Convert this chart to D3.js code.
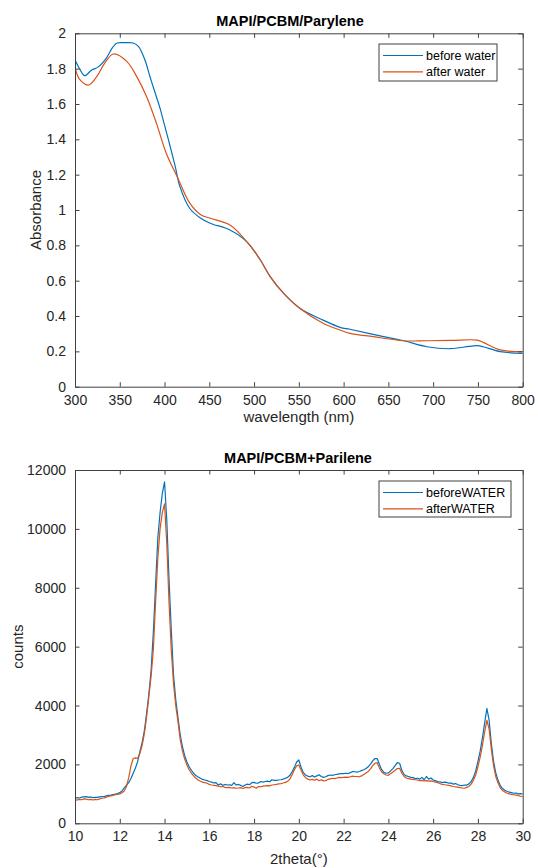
<!DOCTYPE html>
<html>
<head>
<meta charset="utf-8">
<script src="https://cdn.jsdelivr.net/npm/d3@7/dist/d3.min.js"></script>
<style>
  html, body { margin: 0; padding: 0; background: #fff; }
  svg { display: block; font-family: "Liberation Sans", Arial, Helvetica, sans-serif; }
</style>
</head>
<body>
<svg id="chart" width="538" height="868"></svg>
<script>
// ---- UV-vis absorbance (top panel) ----
const wlBefore = [300, 305, 311, 318, 326, 335, 342, 347, 355, 365, 371, 378, 384, 390, 395, 400, 406, 412, 417, 428, 440, 451, 473, 492, 507, 518, 533, 551, 577, 596, 607, 633, 667, 693, 719, 740, 749, 756, 775, 800];
const absBefore = [1.85, 1.80, 1.76, 1.79, 1.81, 1.86, 1.92, 1.945, 1.947, 1.945, 1.925, 1.85, 1.75, 1.655, 1.575, 1.48, 1.365, 1.245, 1.135, 1.01, 0.955, 0.925, 0.887, 0.82, 0.717, 0.623, 0.528, 0.444, 0.377, 0.336, 0.325, 0.296, 0.26, 0.226, 0.215, 0.228, 0.232, 0.226, 0.198, 0.189];
const wlAfter = [300, 305, 315, 325, 333, 343, 358, 369, 380, 391, 402, 414, 428, 440, 451, 473, 492, 507, 518, 533, 551, 577, 596, 607, 633, 667, 693, 720, 749, 756, 775, 800];
const absAfter = [1.81, 1.74, 1.707, 1.76, 1.83, 1.883, 1.84, 1.755, 1.641, 1.49, 1.32, 1.19, 1.04, 0.975, 0.953, 0.915, 0.82, 0.717, 0.623, 0.528, 0.444, 0.359, 0.321, 0.302, 0.283, 0.26, 0.26, 0.262, 0.264, 0.251, 0.208, 0.198];
const uvSeries = ["before water", "after water"];
const uvXTicks = [300, 350, 400, 450, 500, 550, 600, 650, 700, 750, 800];
const uvYTicks = [0, 0.2, 0.4, 0.6, 0.8, 1, 1.2, 1.4, 1.6, 1.8, 2];

// ---- XRD pattern (bottom panel), 2theta from 10 to 30 in 0.1 deg steps ----
const thetaStart = 10, thetaStep = 0.1;
const countsBefore = [
  850, 870, 860, 890, 900, 905, 880, 895, 870, 885,
  880, 900, 910, 905, 930, 950, 960, 975, 990, 1010,
  1040, 1100, 1200, 1300, 1380, 1520, 1700, 1880, 2100, 2430,
  2750, 3150, 3740, 4400, 5200, 6500, 8100, 9700, 10550, 11200,
  11600, 10300, 8300, 6600, 5050, 4200, 3600, 3000, 2600, 2300,
  2080, 1920, 1800, 1700, 1620, 1570, 1530, 1490, 1470, 1450,
  1420, 1400, 1370, 1380, 1300, 1340, 1290, 1320, 1300, 1310,
  1290, 1380, 1300, 1320, 1290, 1250, 1300, 1330, 1310, 1380,
  1390, 1360, 1370, 1420, 1400, 1420, 1430, 1410, 1480, 1460,
  1460, 1470, 1480, 1500, 1530, 1560, 1630, 1750, 1900, 2080,
  2150, 1900, 1720, 1640, 1600, 1580, 1620, 1570, 1610, 1650,
  1590, 1560, 1580, 1620, 1640, 1630, 1650, 1660, 1680, 1690,
  1690, 1700, 1690, 1720, 1760, 1750, 1740, 1760, 1790, 1820,
  1860, 1920, 2010, 2120, 2200, 2200, 2000, 1820, 1730, 1700,
  1710, 1780, 1860, 1960, 2060, 2040, 1800, 1660, 1610, 1590,
  1560, 1550, 1520, 1530, 1500, 1560, 1480, 1590, 1500, 1540,
  1470, 1450, 1420, 1410, 1380, 1400, 1390, 1360, 1370, 1330,
  1350, 1310, 1290, 1280, 1300, 1300, 1340, 1420, 1560, 1780,
  2100, 2450, 2900, 3400, 3900, 3500, 2700, 2100, 1700, 1460,
  1280, 1180, 1120, 1080, 1060, 1040, 1020, 1030, 1000, 1010,
  990
];
const countsAfter = [
  800, 790, 810, 800, 830, 820, 800, 815, 790, 810,
  800, 830, 850, 860, 890, 910, 930, 950, 970, 980,
  1000, 1040, 1100, 1250, 1550, 1950, 2200, 2220, 2210, 2380,
  2650, 3050, 3620, 4300, 5000, 5900, 7500, 9000, 10000, 10550,
  10850, 9500, 7500, 5900, 4750, 4000, 3450, 2850, 2450, 2180,
  1980, 1820, 1700, 1610, 1530, 1470, 1430, 1400, 1380, 1360,
  1320, 1300, 1290, 1280, 1260, 1240, 1250, 1220, 1210, 1220,
  1200, 1210, 1190, 1200, 1210, 1180, 1210, 1220, 1200, 1260,
  1230, 1190, 1250, 1240, 1260, 1270, 1280, 1270, 1300, 1310,
  1320, 1340, 1350, 1370, 1390, 1430, 1500, 1650, 1820, 1950,
  1980, 1800, 1640, 1550, 1500, 1470, 1490, 1460, 1500, 1450,
  1480, 1440, 1450, 1490, 1510, 1530, 1520, 1540, 1560, 1550,
  1560, 1570, 1560, 1580, 1600, 1590, 1590, 1580, 1610, 1660,
  1710, 1760, 1850, 1960, 2040, 2060, 1880, 1740, 1680, 1640,
  1630, 1680, 1740, 1800, 1860, 1870, 1700, 1590, 1540, 1520,
  1500, 1490, 1480, 1470, 1450, 1460, 1440, 1450, 1430, 1440,
  1420, 1400, 1380, 1350, 1320, 1310, 1300, 1290, 1270, 1250,
  1240, 1230, 1210, 1200, 1190, 1220, 1260, 1330, 1460, 1640,
  1920, 2250, 2650, 3100, 3500, 3200, 2500, 1950, 1580, 1370,
  1200, 1110, 1060, 1020, 1000, 980, 970, 960, 940, 920,
  905
];
const xrdSeries = ["beforeWATER", "afterWATER"];
const xrdXTicks = [10, 12, 14, 16, 18, 20, 22, 24, 26, 28, 30];
const xrdYTicks = [0, 2000, 4000, 6000, 8000, 10000, 12000];

const colors = ["#0072BD", "#D95319"];
const axisColor = "#404040";
const textColor = "#262626";

const svg = d3.select("#chart");

function drawPanel(opts) {
  const { top, bottom, left, right, xDomain, yDomain, xTicks, yTicks, yFmt,
          title, titleX, titleY, xLabel, xLabelY, yLabel, yLabelX,
          series, names, curve, legend } = opts;

  const x = d3.scaleLinear().domain(xDomain).range([left, right]);
  const y = d3.scaleLinear().domain(yDomain).range([bottom, top]);
  const g = svg.append("g");

  // axes, ticks pointing inward
  const tick = 4.5;
  const bottomAxis = d3.axisBottom(x).tickValues(xTicks).tickSizeInner(-tick).tickSizeOuter(0).tickPadding(8);
  const topAxis = d3.axisTop(x).tickValues(xTicks).tickSizeInner(-tick).tickSizeOuter(0).tickFormat("");
  const leftAxis = d3.axisLeft(y).tickValues(yTicks).tickSizeInner(-tick).tickSizeOuter(0).tickPadding(9).tickFormat(yFmt);
  const rightAxis = d3.axisRight(y).tickValues(yTicks).tickSizeInner(-tick).tickSizeOuter(0).tickFormat("");

  g.append("rect").attr("x", left).attr("y", top).attr("width", right - left).attr("height", bottom - top)
    .attr("fill", "#fff");

  // data lines
  const clip = "clip" + Math.round(top);
  svg.append("clipPath").attr("id", clip).append("rect")
    .attr("x", left).attr("y", top).attr("width", right - left).attr("height", bottom - top);
  const lines = g.append("g").attr("clip-path", `url(#${clip})`);
  series.forEach((s, i) => {
    const line = d3.line().x(d => x(d[0])).y(d => y(d[1])).curve(curve);
    lines.append("path").datum(s).attr("d", line)
      .attr("fill", "none").attr("stroke", colors[i]).attr("stroke-width", 1.2)
      .attr("stroke-linejoin", "round");
  });

  const axes = [
    [bottomAxis, `translate(0,${bottom})`],
    [topAxis, `translate(0,${top})`],
    [leftAxis, `translate(${left},0)`],
    [rightAxis, `translate(${right},0)`]
  ];
  axes.forEach(([ax, tr]) => {
    const a = g.append("g").attr("transform", tr).call(ax);
    a.select(".domain").attr("stroke", axisColor).attr("stroke-width", 1);
    a.selectAll(".tick line").attr("stroke", axisColor).attr("stroke-width", 1);
    a.selectAll(".tick text").attr("fill", textColor).style("font-size", "14px")
      .style("font-family", '"Liberation Sans", Arial, sans-serif');
  });

  // title and axis labels
  g.append("text").attr("x", titleX).attr("y", titleY).attr("text-anchor", "middle")
    .attr("fill", "#000").style("font-size", "14.5px").style("font-weight", "bold").text(title);
  g.append("text").attr("x", (left + right) / 2).attr("y", xLabelY).attr("text-anchor", "middle")
    .attr("fill", textColor).style("font-size", "15px").text(xLabel);
  g.append("text").attr("transform", `translate(${yLabelX},${(top + bottom) / 2}) rotate(-90)`)
    .attr("text-anchor", "middle").attr("fill", textColor).style("font-size", "15px").text(yLabel);

  // legend
  const lg = g.append("g");
  lg.append("rect").attr("x", legend.x).attr("y", legend.y).attr("width", legend.w).attr("height", legend.h)
    .attr("fill", "#fff").attr("stroke", axisColor).attr("stroke-width", 1);
  names.forEach((n, i) => {
    const ry = legend.y + 11.5 + i * 16.3;
    lg.append("line").attr("x1", legend.x + 4).attr("x2", legend.x + 44).attr("y1", ry).attr("y2", ry)
      .attr("stroke", colors[i]).attr("stroke-width", 1.2);
    lg.append("text").attr("x", legend.x + 47).attr("y", ry + 4.3).attr("fill", "#000")
      .style("font-size", "12.5px").text(n);
  });
}

drawPanel({
  top: 33.3, bottom: 386.7, left: 75, right: 522.7,
  xDomain: [300, 800], yDomain: [0, 2],
  xTicks: uvXTicks, yTicks: uvYTicks, yFmt: d3.format("~g"),
  title: "MAPI/PCBM/Parylene", titleX: 290, titleY: 25.5,
  xLabel: "wavelength (nm)", xLabelY: 422,
  yLabel: "Absorbance", yLabelX: 41,
  series: [d3.zip(wlBefore, absBefore), d3.zip(wlAfter, absAfter)],
  names: uvSeries, curve: d3.curveCatmullRom.alpha(0.5),
  legend: { x: 379, y: 44, w: 118, h: 37 }
});

const twoTheta = countsBefore.map((_, i) => +(thetaStart + i * thetaStep).toFixed(1));

drawPanel({
  top: 470, bottom: 823.3, left: 75, right: 522.7,
  xDomain: [10, 30], yDomain: [0, 12000],
  xTicks: xrdXTicks, yTicks: xrdYTicks, yFmt: d3.format("d"),
  title: "MAPI/PCBM+Parilene", titleX: 298, titleY: 463,
  xLabel: "2theta(°)", xLabelY: 864,
  yLabel: "counts", yLabelX: 23,
  series: [d3.zip(twoTheta, countsBefore), d3.zip(twoTheta, countsAfter)],
  names: xrdSeries, curve: d3.curveLinear,
  legend: { x: 379, y: 481, w: 132, h: 36 }
});
</script>
</body>
</html>
